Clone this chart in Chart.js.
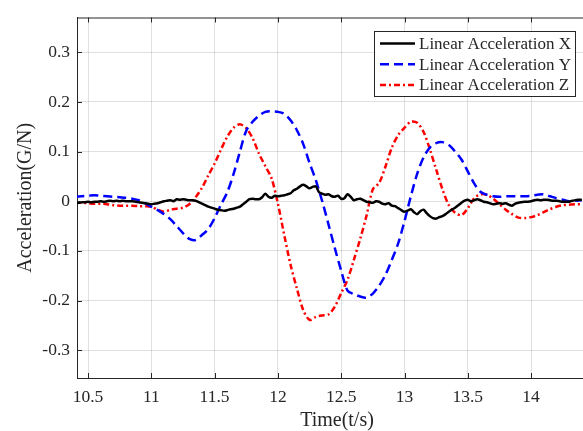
<!DOCTYPE html>
<html>
<head>
<meta charset="utf-8">
<script src="https://cdn.jsdelivr.net/npm/chart.js@4"></script>
<style>
  body { margin: 0; background: #fff; }
  #wrap { width: 583px; height: 431px; }
</style>
</head>
<body>
<div id="wrap"><canvas id="accChart" width="583" height="431"></canvas></div>
<script>
// ---------- Data ----------
const seriesNames = ["Linear Acceleration X", "Linear Acceleration Y", "Linear Acceleration Z"];
const xTicks = [10.5, 11, 11.5, 12, 12.5, 13, 13.5, 14];
const yTicks = [-0.3, -0.2, -0.1, 0, 0.1, 0.2, 0.3];

// X axis sampled every 0.025 s from 10.4 s
const accX = [
  -0.003, -0.003, -0.002, -0.002, -0.001, -0.002, -0.001, -0.001, 0.000, -0.001,
  0.000, 0.001, 0.000, 0.001, 0.000, 0.001, 0.000, 0.000, 0.000, -0.001,
  -0.002, -0.003, -0.004, -0.005, -0.006, -0.005, -0.004, -0.002, 0.000, 0.001,
  0.002, 0.000, 0.004, 0.003, 0.004, 0.003, 0.002, 0.002, 0.001, -0.002,
  -0.005, -0.008, -0.011, -0.013, -0.015, -0.017, -0.018, -0.019, -0.018, -0.016,
  -0.015, -0.013, -0.011, -0.006, -0.001, 0.004, 0.005, 0.004, 0.004, 0.008,
  0.015, 0.009, 0.007, 0.011, 0.010, 0.011, 0.012, 0.014, 0.016, 0.022,
  0.025, 0.030, 0.033, 0.030, 0.026, 0.029, 0.030, 0.018, 0.015, 0.013,
  0.014, 0.010, 0.009, 0.011, 0.005, 0.006, 0.014, 0.009, 0.002, 0.004,
  0.005, 0.002, -0.001, -0.002, -0.003, 0.000, -0.001, -0.005, -0.006, -0.004,
  -0.009, -0.010, -0.014, -0.018, -0.021, -0.019, -0.016, -0.022, -0.026, -0.020,
  -0.017, -0.024, -0.030, -0.034, -0.035, -0.032, -0.030, -0.026, -0.021, -0.017,
  -0.013, -0.008, -0.003, 0.001, 0.003, 0.000, 0.002, 0.004, 0.002, -0.001,
  -0.002, -0.004, -0.006, -0.005, -0.004, -0.005, -0.004, -0.007, -0.009, -0.005,
  -0.003, -0.002, -0.001, -0.001, 0.000, 0.002, 0.003, 0.002, 0.003, 0.003,
  0.002, 0.001, 0.001, 0.000, -0.001, -0.001, -0.001, 0.001, 0.002, 0.003,
  0.003
];

// Y and Z sampled every 0.05 s from 10.4 s
const accY = [
  0.009, 0.010, 0.011, 0.012, 0.011, 0.010, 0.009, 0.008, 0.007, 0.005,
  0.002, -0.004, -0.011, -0.018, -0.026, -0.036, -0.050, -0.064, -0.076, -0.078,
  -0.068, -0.056, -0.034, -0.007, 0.018, 0.055, 0.100, 0.142, 0.160, 0.172,
  0.180, 0.181, 0.180, 0.176, 0.163, 0.143, 0.115, 0.077, 0.042, 0.000,
  -0.047, -0.095, -0.140, -0.180, -0.187, -0.192, -0.194, -0.186, -0.170, -0.148,
  -0.118, -0.085, -0.040, 0.010, 0.055, 0.088, 0.108, 0.117, 0.119, 0.113,
  0.100, 0.084, 0.060, 0.036, 0.019, 0.013, 0.010, 0.009, 0.010, 0.010,
  0.010, 0.010, 0.011, 0.013, 0.014, 0.010, 0.006, 0.003, 0.000, 0.001,
  0.002
];

const accZ = [
  -0.002, -0.003, -0.004, -0.005, -0.005, -0.006, -0.008, -0.009, -0.009, -0.009,
  -0.010, -0.010, -0.011, -0.017, -0.021, -0.017, -0.015, -0.013, -0.006, 0.008,
  0.027, 0.052, 0.076, 0.104, 0.130, 0.148, 0.155, 0.147, 0.127, 0.096,
  0.071, 0.046, -0.005, -0.068, -0.128, -0.176, -0.219, -0.239, -0.233, -0.230,
  -0.228, -0.212, -0.185, -0.158, -0.118, -0.076, -0.029, 0.024, 0.037, 0.070,
  0.108, 0.133, 0.148, 0.160, 0.158, 0.140, 0.105, 0.064, 0.024, -0.008,
  -0.023, -0.028, -0.014, 0.006, 0.014, 0.013, 0.005, -0.006, -0.017, -0.026,
  -0.033, -0.034, -0.032, -0.028, -0.022, -0.016, -0.011, -0.008, -0.007, -0.006,
  -0.006
];

const toPoints = (vals, t0, dt) => vals.map((v, i) => ({ x: +(t0 + i * dt).toFixed(3), y: v }));

const serif = "'Liberation Serif', 'Times New Roman', serif";
const inkColor = "#262626";

// ---------- Frame, inward ticks, axis titles, legend ----------
const framePlugin = {
  id: "frame",
  afterDraw(chart) {
    const { ctx, chartArea: a, scales } = chart;
    ctx.save();
    ctx.strokeStyle = inkColor;
    ctx.lineWidth = 1;
    ctx.beginPath();
    ctx.moveTo(a.left, a.top + 0.5);
    ctx.lineTo(a.right, a.top + 0.5);
    xTicks.forEach(v => {
      const px = Math.round(scales.x.getPixelForValue(v)) + 0.5;
      ctx.moveTo(px, a.bottom); ctx.lineTo(px, a.bottom - 5);
      ctx.moveTo(px, a.top); ctx.lineTo(px, a.top + 5);
    });
    yTicks.forEach(v => {
      const py = Math.round(scales.y.getPixelForValue(v)) + 0.5;
      ctx.moveTo(a.left, py); ctx.lineTo(a.left + 5, py);
    });
    ctx.stroke();

    // axis titles
    ctx.fillStyle = inkColor;
    ctx.font = "20px " + serif;
    ctx.textAlign = "center";
    ctx.textBaseline = "middle";
    ctx.fillText("Time(t/s)", (a.left + a.right) / 2 + 7, 421);
    ctx.translate(26, (a.top + a.bottom) / 2);
    ctx.rotate(-Math.PI / 2);
    ctx.fillText("Acceleration(G/N)", 0, 0);
    ctx.restore();

    // legend box
    const box = { x: 374.5, y: 31.5, w: 201, h: 65 };
    ctx.save();
    ctx.fillStyle = "#fff";
    ctx.fillRect(box.x, box.y, box.w, box.h);
    ctx.strokeStyle = inkColor;
    ctx.lineWidth = 1;
    ctx.strokeRect(box.x, box.y, box.w, box.h);
    ctx.font = "17px " + serif;
    ctx.textAlign = "left";
    ctx.textBaseline = "middle";
    chart.data.datasets.forEach((ds, i) => {
      const cy = 43.5 + i * 20.7;
      ctx.strokeStyle = ds.borderColor;
      ctx.lineWidth = ds.borderWidth;
      ctx.setLineDash(ds.borderDash || []);
      ctx.beginPath();
      ctx.moveTo(380, cy);
      ctx.lineTo(415, cy);
      ctx.stroke();
      ctx.setLineDash([]);
      ctx.fillStyle = inkColor;
      ctx.fillText(ds.label, 419, cy + 1);
    });
    ctx.restore();
  }
};

// ---------- Chart ----------
new Chart(document.getElementById("accChart"), {
  type: "line",
  data: {
    datasets: [
      {
        label: seriesNames[0],
        data: toPoints(accX, 10.4, 0.025),
        borderColor: "#000000",
        borderWidth: 2.5,
      },
      {
        label: seriesNames[1],
        data: toPoints(accY, 10.4, 0.05),
        borderColor: "#0000ff",
        borderWidth: 2.5,
        borderDash: [9, 5],
      },
      {
        label: seriesNames[2],
        data: toPoints(accZ, 10.4, 0.05),
        borderColor: "#ff0000",
        borderWidth: 2.5,
        borderDash: [6, 3, 2, 3],
      },
    ],
  },
  options: {
    responsive: false,
    animation: false,
    parsing: false,
    elements: { point: { radius: 0 }, line: { tension: 0.3 } },
    layout: { padding: { top: 15, right: 0, left: 0, bottom: 0 } },
    plugins: {
      legend: { display: false },
      tooltip: { enabled: false },
    },
    scales: {
      x: {
        type: "linear",
        min: 10.413,
        max: 14.41,
        afterFit: s => { s.height = 53; },
        afterBuildTicks: s => { s.ticks = xTicks.map(v => ({ value: v })); },
        grid: { color: "rgba(0,0,0,0.12)", drawTicks: false },
        border: { color: inkColor, width: 1 },
        ticks: {
          padding: 9,
          color: inkColor,
          font: { family: serif, size: 17.5 },
          maxRotation: 0,
          callback: v => String(v),
        },
      },
      y: {
        min: -0.356,
        max: 0.37,
        afterFit: s => { s.width = 77; },
        afterBuildTicks: s => { s.ticks = yTicks.map(v => ({ value: v })); },
        grid: { color: "rgba(0,0,0,0.12)", drawTicks: false },
        border: { color: inkColor, width: 1 },
        ticks: {
          padding: 7,
          color: inkColor,
          font: { family: serif, size: 17.5 },
          callback: v => (v === 0 ? "0" : v.toFixed(1)),
        },
      },
    },
  },
  plugins: [framePlugin],
});
</script>
</body>
</html>
